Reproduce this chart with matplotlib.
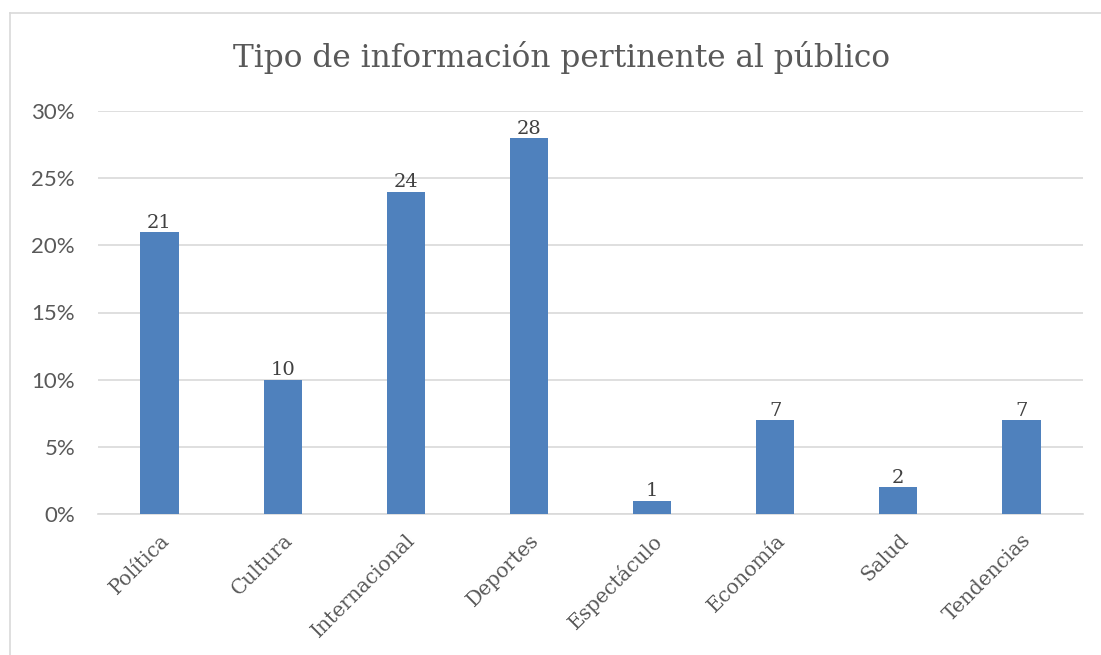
import matplotlib
matplotlib.use("Agg")
import matplotlib.pyplot as plt
from matplotlib.ticker import FuncFormatter, MultipleLocator
from matplotlib.lines import Line2D

categories = ["Política", "Cultura", "Internacional", "Deportes", "Espectáculo", "Economía", "Salud", "Tendencias"]
values = [21, 10, 24, 28, 1, 7, 2, 7]
title = "Tipo de información pertinente al público"

plt.rcParams['font.family'] = ['DejaVu Serif']
txt = '#595959'

fig = plt.figure(figsize=(11.01, 6.55), dpi=100)
W, H = 1101, 655
ax = fig.add_axes([98 / W, 1 - 514 / H, (1083 - 98) / W, (514 - 111) / H])

x = list(range(len(categories)))
bars = ax.bar(x, values, width=0.31, color='#4F81BD', zorder=3)
for xi, v in zip(x, values):
    ax.text(xi, v + 0.02, str(v), ha='center', va='bottom', fontsize=14, color='#404040', zorder=4)

ax.set_xlim(-0.5, len(categories) - 0.5)
ax.set_ylim(0, 30)
ax.yaxis.set_major_locator(MultipleLocator(5))
ax.yaxis.set_major_formatter(FuncFormatter(lambda v, p: f"{int(round(v))}%"))
ax.grid(axis='y', color='#D9D9D9', linewidth=1.2, zorder=0)
for s in ['top', 'right', 'left']:
    ax.spines[s].set_visible(False)
ax.spines['bottom'].set_color('#D9D9D9')
ax.spines['bottom'].set_linewidth(1.2)
ax.tick_params(axis='both', length=0, colors=txt)
ax.tick_params(axis='y', pad=16.5, labelsize=16)
ax.tick_params(axis='x', pad=12, labelsize=14.5)
for lbl in ax.get_yticklabels():
    lbl.set_fontfamily(['Lato', 'DejaVu Sans'])
ax.set_xticks(x)
ax.set_xticklabels(categories, rotation=45, ha='right', rotation_mode='anchor')
for lbl in ax.get_xticklabels():
    lbl.set_color(txt)

fig.text(562 / W, 1 - 57 / H, title, ha='center', va='center', fontsize=22.5, color=txt)

fig.lines.append(Line2D([10 / W, 10 / W], [0, 1 - 13 / H], transform=fig.transFigure,
                        color='#D9D9D9', linewidth=1.2))
fig.lines.append(Line2D([10 / W, 1], [1 - 13 / H, 1 - 13 / H], transform=fig.transFigure,
                        color='#D9D9D9', linewidth=1.2))

fig.savefig("out.png", dpi=100)
